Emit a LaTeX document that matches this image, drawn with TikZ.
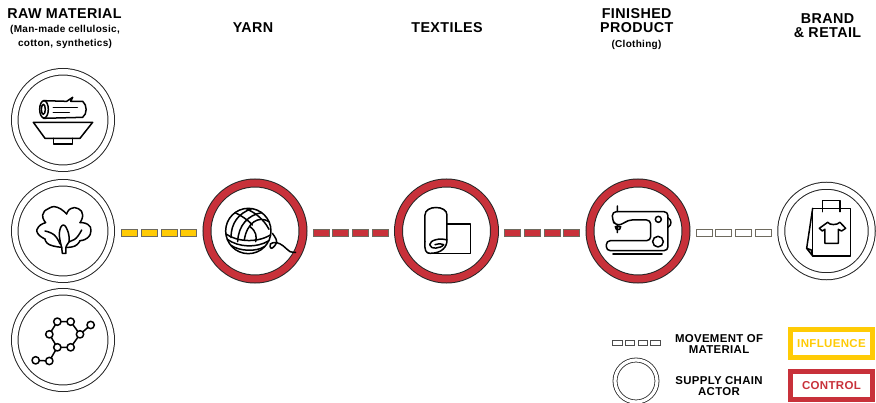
\documentclass[tikz,border=0pt]{standalone}
\usepackage{fontspec}
\setmainfont{Liberation Sans}[LetterSpace=3]
\usetikzlibrary{decorations.markings}
\definecolor{ctrlred}{HTML}{C8313A}
\definecolor{inflgold}{HTML}{FFCB05}
\definecolor{segline}{HTML}{6E6A5E}
\tikzset{
  actor/.style={circle, draw=black!85, line width=1pt, double=white, double distance=5.5pt,
    fill=white, minimum size=96.5pt, inner sep=0pt},
  ctrlactor/.style={actor, double=ctrlred, double distance=7pt, minimum size=96pt},
  link/.style={decoration={markings, mark=between positions 0.187 and 0.82 step 0.2087 with {
    \draw[fill=#1, draw=segline, line width=0.8pt] (-8,-3.7) rectangle (8,3.7);}}, decorate},
  minilink/.style={decoration={markings, mark=between positions 0.108 and 0.89 step 0.2592 with {
    \draw[fill=white, draw=black!70, line width=0.7pt] (-4.8,-2.3) rectangle (4.8,2.3);}}, decorate},
  head/.style={font=\fontsize{14.3}{14}\selectfont\bfseries, align=center, inner sep=0pt},
  sub/.style={font=\fontsize{10}{14.5}\selectfont\bfseries, align=center, inner sep=0pt},
  legtext/.style={font=\fontsize{11.4}{11}\selectfont\bfseries, align=center, inner sep=0pt},
  keybox/.style={draw=#1, text=#1, line width=4.6pt, minimum width=82.4pt, minimum height=28.2pt,
    font=\fontsize{11.5}{11.5}\selectfont\bfseries, inner sep=0pt},
  icon/.style={x=0.3333pt, y=-0.3333pt, line width=1.5pt, line join=round, line cap=round},
}

\begin{document}
\begin{tikzpicture}[x=1pt, y=-1pt]
\useasboundingbox (0,0) rectangle (876,403);

% ── Titles ──────────────────────────────────────────────────
\node[head] (tRaw) at (64.5,14) {RAW MATERIAL};
\node[sub] (tRawSub) at (65,37) {(Man-made cellulosic,\\cotton, synthetics)};
\node[head] (tYarn) at (253,28) {YARN};
\node[head] (tTex) at (447,28) {TEXTILES};
\node[head] (tFin) at (636.7,21) {FINISHED\\[0pt]PRODUCT};
\node[sub] (tFinSub) at (636.5,44.5) {(Clothing)};
\node[head] (tBrand) at (827.5,26) {BRAND\\[0pt]\& RETAIL};

% ── Actors ──────────────────────────────────────────────────
\node[actor] (wood) at (63,120) {};
\node[actor] (cotton) at (63,231) {};
\node[actor] (chem) at (63,340) {};
\node[ctrlactor] (yarn) at (255,231) {};
\node[ctrlactor] (textile) at (446.5,231) {};
\node[ctrlactor] (finished) at (638,231) {};
\node[actor, minimum size=90.5pt, double distance=6pt] (brand) at (826.5,231) {};

% ── Relations ───────────────────────────────────────────────
\path[link=inflgold] ([yshift=-2pt]cotton.east) -- ([yshift=-2pt]yarn.west);
\path[link=ctrlred] ([yshift=-2pt]yarn.east) -- ([yshift=-2pt]textile.west);
\path[link=ctrlred] ([yshift=-2pt]textile.east) -- ([yshift=-2pt]finished.west);
\path[link=white] ([yshift=-2pt]finished.east) -- ([yshift=-2pt]brand.west);

% ── Log and bowl ────────────────────────────────────────────
\begin{scope}[shift={(0,60)}, icon]
  \draw (130,122) -- (200,124) -- (218,112) -- (212,124) -- (248,124)
    .. controls (262,135) and (262,162) .. (248,172) -- (130,175);
  \draw (132,148) ellipse (13 and 26);
  \draw (130,148) ellipse (6 and 15);
  \draw (160,143) -- (232,143) (160,158) -- (208,158);
  \draw (100,187) -- (278,187) -- (240,235) -- (135,235) -- cycle;
  \draw (160,235) -- (160,252) -- (218,252) -- (218,235);
\end{scope}

% ── Cotton ──────────────────────────────────────────────────
\begin{scope}[shift={(0,170)}, icon]
  \draw plot[smooth, tension=0.9] coordinates {(137,158) (128,135) (145,116) (172,112) (200,132)};
  \draw plot[smooth, tension=0.9] coordinates {(200,132) (212,116) (235,116) (248,135) (240,158)};
  \draw plot[smooth, tension=0.9] coordinates {(240,158) (263,163) (273,182) (262,204) (240,212)};
  \draw plot[smooth, tension=0.9] coordinates {(240,212) (225,228) (198,232)};
  \draw plot[smooth, tension=0.9] coordinates {(137,158) (116,170) (113,190) (135,207)};
  \draw plot[smooth, tension=0.9] coordinates {(135,207) (148,224) (185,232)};
  \draw (185,232) -- (187,250) -- (198,250) -- (198,232);
  \draw plot[smooth, tension=0.8] coordinates {(135,183) (163,195) (180,222)};
  \draw plot[smooth, tension=0.8] coordinates {(245,180) (228,205) (207,216) (198,232)};
  \draw plot[smooth, tension=0.8] coordinates {(185,232) (178,190) (190,165) (205,188) (207,216)};
\end{scope}

% ── Molecule ────────────────────────────────────────────────
\begin{scope}[shift={(0,285)}, icon]
  \draw (172,110) -- (212,110) -- (240,148) -- (212,187) -- (172,187) -- (148,148) -- cycle;
  \draw (240,148) -- (272,120) (172,187) -- (148,228) -- (107,226);
  \foreach \p in {(172,110),(212,110),(240,148),(212,187),(172,187),(148,148),(272,120),(148,228),(107,226)} {
    \draw[fill=white] \p circle (11);
  }
\end{scope}

% ── Ball of yarn ────────────────────────────────────────────
\begin{scope}[shift={(195,170)}, icon]
  \draw (160,183) circle (68);
  \draw (170,116) .. controls (130,130) and (108,160) .. (108,203);
  \draw (200,128) .. controls (160,135) and (130,165) .. (128,215);
  \draw (222,155) .. controls (190,135) and (155,160) .. (148,210);
  \draw (120,128) .. controls (135,135) and (160,150) .. (172,165);
  \draw (156,118) .. controls (175,125) and (205,145) .. (222,178);
  \draw (165,170) .. controls (185,185) and (185,200) .. (182,215);
  \draw (93,192) .. controls (125,215) and (185,220) .. (226,195);
  \draw (97,208) .. controls (130,232) and (185,235) .. (222,212);
  \draw (108,226) .. controls (135,245) and (185,245) .. (208,230);
  \draw plot[smooth, tension=0.7] coordinates {(232,190) (245,215) (230,235) (226,222) (245,218) (265,228) (285,245) (302,247)};
\end{scope}

% ── Roll of cloth ───────────────────────────────────────────
\begin{scope}[shift={(385,170)}, icon]
  \draw (120,215) -- (120,135) .. controls (120,105) and (186,105) .. (186,135) -- (186,210);
  \draw (186,162) -- (256,162) -- (256,250) -- (130,250);
  \draw (120,215) .. controls (118,240) and (122,250) .. (135,250)
    .. controls (170,250) and (186,232) .. (186,210)
    .. controls (165,203) and (135,210) .. (134,224)
    .. controls (135,240) and (170,235) .. (176,224) .. controls (165,220) and (155,222) .. (150,224);
\end{scope}

% ── Sewing machine ──────────────────────────────────────────
\begin{scope}[shift={(578,170)}, icon]
  \draw[rounded corners=4pt] (103,125) -- (103,150) -- (112,165) -- (130,165) -- (150,150)
    -- (218,150) -- (218,212) -- (85,212) -- (85,242) -- (270,242) -- (270,125) -- cycle;
  \draw[line width=1.9pt] (105,251) -- (252,251);
  \draw (118,108) -- (118,125) (118,165) -- (118,188) (112,170) -- (128,170) -- (125,178) -- (115,178) -- cycle;
  \draw (241,148) circle (9) (240,215) circle (16);
  \draw (270,143) .. controls (282,150) and (282,165) .. (270,172);
\end{scope}

% ── Shopping bag ────────────────────────────────────────────
\begin{scope}[shift={(690,170)}, icon]
  \draw (368,115) rectangle (482,258);
  \draw (368,115) -- (350,235) -- (368,258) (350,235) -- (364,240) -- (368,258);
  \draw (398,125) -- (398,92) -- (450,92) -- (450,125);
  \draw (388,175) -- (413,157) .. controls (420,166) and (440,166) .. (450,157) -- (467,175) -- (455,183)
    -- (445,178) -- (445,220) -- (405,220) -- (405,178) -- (397,183) -- cycle;
\end{scope}

% ── Legend ──────────────────────────────────────────────────
\coordinate (legFrom) at (612,343);
\coordinate (legTo) at (661,343);
\path[minilink] (legFrom) -- (legTo);
\node[actor, line width=0.8pt, double distance=3.2pt, minimum size=42pt] (legActor) at (636,381) {};
\node[legtext] (legMove) at (719,344.5) {MOVEMENT OF\\[0pt]MATERIAL};
\node[legtext] (legChain) at (719,386.2) {SUPPLY CHAIN\\[0pt]ACTOR};
\node[keybox=inflgold] (keyInfl) at (831.5,343.7) {INFLUENCE};
\node[keybox=ctrlred] (keyCtrl) at (831.5,385.5) {CONTROL};

\end{tikzpicture}
\end{document}
